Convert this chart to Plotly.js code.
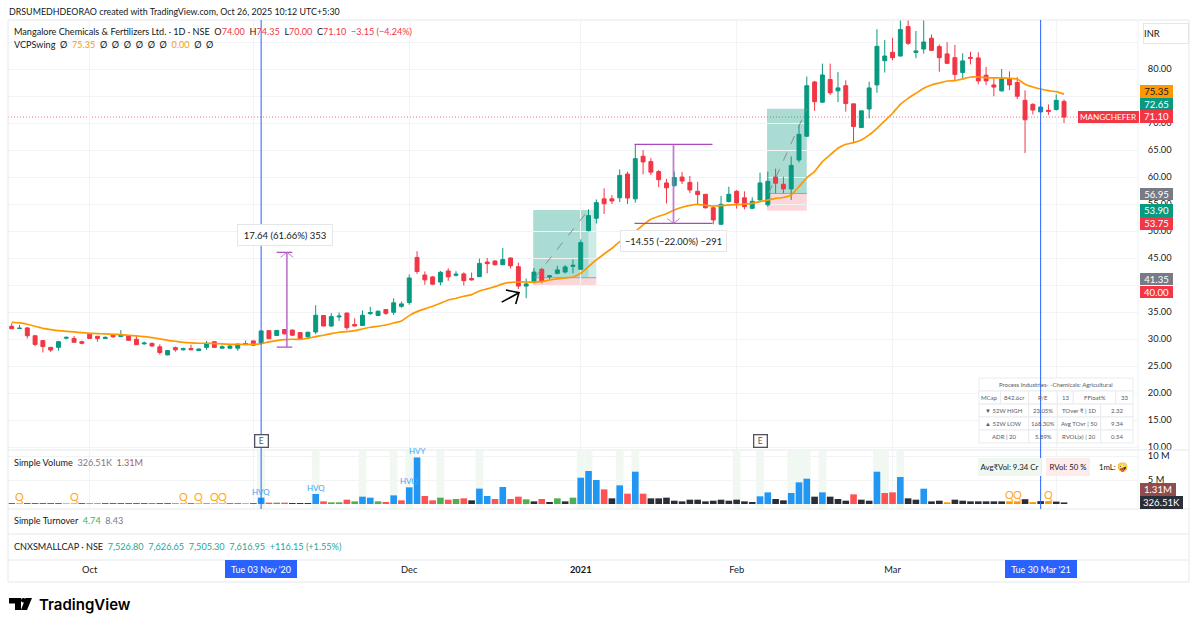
<!DOCTYPE html>
<html>
<head>
<meta charset="utf-8">
<script src="https://cdn.plot.ly/plotly-3.0.1.min.js"></script>
<style>html,body{margin:0;padding:0;background:#fff}#c{width:1200px;height:627px}</style>
</head>
<body>
<div id="c"></div>
<script>
// ---------- data ----------
const opens = [32.35,31.95,32.05,30.6,29.7,28.45,28.45,30.15,30.1,29.5,30.95,30.5,30.1,30.85,30.45,30.6,29.95,29.1,29.2,28.55,27.05,28.4,28.0,28.25,27.85,28.45,29.5,28.3,28.3,28.3,28.95,29.65,29.15,31.55,30.65,31.75,31.65,31.2,30.4,31.3,34.35,32.4,34.1,34.8,32.7,32.5,34.7,34.35,35.45,34.95,36.05,36.75,45.1,41.85,41.5,40.55,42.6,41.8,42.05,41.2,41.55,44.25,44.45,43.75,45.0,43.4,39.8,40.45,42.9,41.5,42.15,42.4,43.45,42.9,50.05,52.35,55.95,55.95,56.15,60.55,55.95,63.85,62.85,61.0,58.9,58.4,60.0,59.0,57.35,56.8,54.3,51.25,55.45,57.35,56.15,54.2,55.75,54.85,60.0,58.65,57.8,63.15,67.55,77.6,73.85,78.05,75.95,76.9,73.55,69.15,72.6,77.05,81.55,83.1,82.4,87.85,83.05,83.7,85.7,84.15,82.8,82.1,79.35,82.15,82.05,78.85,77.05,75.95,78.15,77.5,74.2,73.45,72.05,72.35,72.5,74.0];
const highs = [32.9,32.6,32.2,30.75,29.8,28.45,29.65,30.45,30.55,29.7,31.15,30.55,30.5,30.85,31.65,30.75,30.55,29.5,29.3,29.0,27.95,28.6,28.4,28.95,28.25,29.65,29.55,28.85,28.95,29.15,29.7,29.7,31.5,31.65,31.6,31.8,31.75,31.25,31.35,36.25,34.4,34.8,34.9,34.9,33.85,35.3,35.95,35.25,35.5,37.55,36.95,41.95,46.25,42.5,41.65,42.6,43.1,42.55,42.35,42.3,44.9,45.0,44.55,46.85,45.1,44.15,41.2,43.15,43.2,41.85,43.55,43.7,44.75,48.45,54.0,55.85,57.9,56.65,61.4,61.0,66.05,65.0,63.5,61.3,59.65,61.0,60.95,60.2,59.1,56.85,54.65,56.5,58.2,57.6,57.35,56.25,60.8,61.0,61.55,60.05,63.8,69.65,78.6,77.8,81.0,81.0,79.45,77.9,73.55,72.3,77.65,87.35,85.35,85.75,90.9,90.0,87.05,91.0,86.4,84.55,84.95,84.45,82.9,83.2,83.1,80.4,78.5,80.0,79.55,78.5,76.05,73.65,76.1,73.45,75.3,74.35];
const lows = [31.9,31.9,30.1,28.7,27.5,27.6,27.85,29.95,29.3,29.0,30.0,29.5,30.0,30.25,30.4,29.7,28.9,28.95,28.6,27.1,27.0,27.65,27.85,27.95,27.8,28.0,28.4,28.2,28.2,27.8,28.9,28.8,29.1,30.0,30.55,30.85,30.6,29.8,30.15,30.9,32.35,32.3,33.35,31.7,32.35,32.4,34.45,34.25,34.45,34.45,35.8,36.35,42.05,40.05,40.05,39.95,40.8,41.55,39.9,40.8,41.5,42.15,43.6,43.7,43.05,39.25,37.55,40.3,40.3,41.05,42.0,42.15,42.15,42.8,49.95,51.4,53.15,55.0,55.35,55.0,55.25,60.5,60.35,58.1,55.1,58.2,58.7,57.0,55.0,54.15,51.25,51.1,55.3,54.15,54.0,54.05,55.6,54.5,57.0,57.0,55.75,62.7,67.4,72.25,73.75,75.2,73.85,72.1,66.45,69.1,70.85,75.6,79.35,81.6,82.35,84.45,82.0,82.85,83.35,79.5,81.0,77.95,78.3,80.85,77.15,77.05,74.95,75.8,76.1,74.45,64.45,71.6,72.0,71.5,72.3,70.0];
const closes = [31.9,32.0,30.6,29.0,28.6,27.95,29.5,30.3,29.4,29.2,30.1,30.1,30.3,30.4,30.8,29.75,28.95,29.25,28.7,27.5,27.85,28.0,28.2,28.0,28.15,29.2,28.45,28.55,28.7,29.05,29.15,28.85,31.5,30.05,31.6,30.95,30.7,29.95,31.25,34.4,32.4,34.15,34.25,32.1,32.4,34.4,34.9,35.15,34.75,36.7,36.5,41.3,42.5,40.95,40.15,42.35,41.5,42.0,40.8,40.95,44.0,43.95,43.75,44.7,43.55,39.8,40.2,42.4,40.75,41.7,42.8,43.35,43.65,47.85,52.85,55.25,55.05,55.55,60.3,56.1,63.4,62.8,60.9,59.5,58.0,59.9,59.25,57.6,56.75,54.3,52.05,54.95,56.8,55.2,54.5,55.5,58.9,59.2,58.85,57.8,62.15,67.9,76.9,73.95,78.9,75.6,76.5,73.6,69.35,72.25,76.5,84.2,82.4,82.1,87.3,84.75,83.35,85.0,83.45,82.1,81.05,79.0,81.5,82.0,77.8,77.8,76.65,78.15,77.05,74.95,70.6,72.4,72.95,72.15,74.2,71.1];
const vcpLine = [33.1,32.97,32.73,32.36,31.98,31.74,31.55,31.43,31.31,31.18,31.06,31.0,30.94,30.87,30.81,30.69,30.57,30.44,30.26,30.01,29.76,29.58,29.39,29.27,29.21,29.21,29.15,29.09,29.02,29.02,29.02,29.02,29.15,29.46,29.7,29.89,29.95,29.95,30.14,30.45,30.69,31.0,31.25,31.37,31.55,31.86,32.17,32.36,32.6,32.97,33.35,34.33,35.07,35.57,36.06,36.62,37.23,37.54,37.91,38.22,38.9,39.27,39.7,40.2,40.5,40.56,40.56,40.53,40.63,40.93,41.12,41.3,41.49,42.17,43.4,44.64,45.75,46.8,48.03,48.77,49.88,51.12,52.16,52.72,53.21,53.89,54.39,54.76,54.94,54.76,54.63,54.69,54.82,54.88,55.0,55.13,55.43,55.74,56.05,56.2,56.68,58.22,59.89,61.0,62.85,64.09,65.32,66.06,66.37,66.86,67.79,69.02,70.38,71.8,73.46,74.57,75.5,76.43,77.04,77.41,77.78,77.85,78.15,78.52,78.52,78.4,78.34,78.34,78.28,78.15,77.17,76.67,76.3,76.0,75.8,75.35];
const volumes = [0.15,0.15,0.15,0.15,0.15,0.15,0.15,0.15,0.15,0.15,0.15,0.15,0.15,0.15,0.15,0.15,0.15,0.15,0.12,0.15,0.15,0.15,0.15,0.12,0.15,0.15,0.15,0.15,0.12,0.12,0.12,0.15,1.32,0.28,0.28,0.28,0.2,0.2,0.2,2.08,0.55,0.35,0.35,0.9,0.55,1.53,1.32,0.55,0.42,1.8,0.76,3.47,9.7,1.67,0.76,1.32,0.9,1.04,1.18,0.76,3.2,1.67,1.04,3.54,1.04,1.53,0.97,0.55,1.04,0.42,1.18,0.55,1.32,5.48,6.87,5.0,3.05,1.18,3.89,2.15,6.73,2.15,1.18,1.18,1.32,0.69,0.55,0.9,0.9,0.55,0.69,0.9,0.69,0.9,0.55,0.42,1.6,2.43,1.04,0.76,2.29,4.51,5.27,1.53,2.43,1.53,1.04,0.69,2.01,0.9,0.69,6.73,2.29,2.43,5.62,1.18,0.9,3.19,0.55,0.69,0.35,0.9,0.69,0.55,0.55,0.55,0.55,0.55,0.55,0.55,1.0,0.4,0.6,0.6,0.5,0.33];
const volumeKinds = ("dodddddood"+"bbdddddddd"+"dbodoboodd"+"bdbrgrdddb"+"rggrgbbgrb"+"rbbrrgrgrd"+"bbrbrrgdrd"+"gdgbbbrdbr"+"brdddddddd"+"ddddddbbdd"+"bbbdbdddrd"+"dbrrbddbdd"+"odddddddoo"+"dododd");
const bandBars = [32,39,45,49,51,55,60,73,74,78,80,93,96,100,101,102,104,111,112,114];
const qBars = [1,8,22,24,26,27,128,129,133];
const hvLabelBars = [32,39,51,52];
const hvLabels = ["HVQ","HVQ","HVQ","HVY"];
const crosshairBars = [32,132];
const crosshairDates = ["Tue 03 Nov '20","Tue 30 Mar '21"];
const earningsBars = [32,96];
const monthBars = [10,31,51,73,93,113,134];
const monthLabels = ["Oct","","Dec","<b>2021</b>","Feb","Mar",""];
const priceTicks = [10,15,20,25,30,35,40,45,50,55,60,65,70,75,80,85];
const hiddenPriceTicks = [40,75,85];
const lastPrice = 71.10;
const posBars = [[67,74,75],[97,102,102]];
const posTarget = [53.90,72.65];
const posEntry = [41.35,56.95];
const posStop = [40.00,53.75];
const measureUpBars = [34,36,35.3];
const measureUpPrices = [46.05,28.5];
const measureDownBars = [79.9,89.9,84.9];
const measureDownPrices = [66.05,51.4];
const arrowBars = [62.86,65.08,63.4,65.08,64.66];
const arrowPrices = [36.82,38.57,39.07,38.57,36.48];
const tableRows = [
  ["MCap","842.6cr","P/E","13","FFloat%","33"],
  ["▼ 52W HIGH","23.05%","TOver ₹ | 1D","2.32"],
  ["▲ 52W LOW","168.30%","Avg TOvr | 50","9.34"],
  ["ADR | 20","5.89%","RVOL(x) | 20","0.54"]
];
const tableTitle = "Process Industries- -Chemicals: Agricultural";

// ---------- colours ----------
const RED="#f23645", GREEN="#089981", ORANGE="#ff9800", BLUE="#2962ff", INK="#131722", GRID="#f2f3f5", FRAME="#e6e8ec", GREY="#787b86";
const kindColor={d:"#2a2e39",o:"#ff9800",b:"#2196f3",r:"#ff5252",g:"#4caf50"};
const FONT='Lato, "Noto Sans", sans-serif';

// ---------- pixel helpers ----------
const L=8,R=1138,T=20,B=560;
const px=x=>(x-L)/(R-L), py=y=>(B-y)/(B-T);
const bars=opens.map((_,i)=>i);
const xRange=[(L-11.7)/7.795,(R-11.7)/7.795];
const yRange=[(501-449)/5.4,(501-20)/5.4];
const vRange=[-(509-504)/4.8,(504-451)/4.8];

const ann=[], shp=[];
const text=(t,x,y,o={})=>ann.push(Object.assign({text:t,x:px(x),y:py(y),xref:"paper",yref:"paper",xanchor:"left",yanchor:"middle",showarrow:false,borderpad:0,font:{family:FONT,size:11,color:INK}},o));
const box=(t,x0,x1,y0,y1,bg,color,size)=>ann.push({text:t,x:px((x0+x1)/2),y:py((y0+y1)/2),xref:"paper",yref:"paper",xanchor:"center",yanchor:"middle",showarrow:false,width:x1-x0,height:y1-y0,bgcolor:bg,borderpad:0,borderwidth:0,align:"center",valign:"middle",font:{family:FONT,size:size||9.6,color}});
const rule=(x0,x1,y0,y1,c,w)=>shp.push({type:"line",xref:"paper",yref:"paper",x0:px(x0),x1:px(x1),y0:py(y0),y1:py(y1),line:{color:c||FRAME,width:w||1}});
const bordered=(t,cx,cy,w,h,size,o={})=>ann.push(Object.assign({text:t,x:px(cx),y:py(cy),xref:"paper",yref:"paper",xanchor:"center",yanchor:"middle",showarrow:false,width:w,height:h,bgcolor:"#fff",bordercolor:"#e4e6ea",borderwidth:1,borderpad:0,font:{family:FONT,size,color:INK}},o));

// frame
[[8,1189,20,20],[8,1189,450,450],[8,1189,509,509],[8,1189,534,534],[8,1189,560,560],[8,1189,582,582],[8,8,20,582],[1189,1189,20,582]].forEach(a=>rule(a[0],a[1],a[2],a[3]));
rule(1138,1138,20,509,"#f0f1f3");

// position tools
posBars.forEach((b,k)=>{
  shp.push({type:"rect",xref:"x",yref:"y",x0:b[0]-.1,x1:b[1],y0:posEntry[k],y1:posTarget[k],fillcolor:"rgba(8,153,129,.34)",line:{width:0},layer:"below"});
  if(b[2]>b[1]) shp.push({type:"rect",xref:"x",yref:"y",x0:b[1],x1:b[2],y0:posEntry[k],y1:posTarget[k],fillcolor:"rgba(8,153,129,.2)",line:{width:0},layer:"below"});
  shp.push({type:"rect",xref:"x",yref:"y",x0:b[0]-.1,x1:b[2],y0:posStop[k],y1:posEntry[k],fillcolor:"rgba(242,54,69,.2)",line:{width:0},layer:"below"});
  shp.push({type:"line",xref:"x",yref:"y",x0:b[0]-.1,x1:b[2],y0:posEntry[k],y1:posEntry[k],line:{color:"#a0a3aa",width:1},layer:"below"});
  shp.push({type:"line",xref:"x",yref:"y",x0:b[0]+.1,x1:b[1],y0:posEntry[k],y1:posTarget[k],line:{color:"#8a8d94",width:1,dash:"dash"}});
});
// last price line
shp.push({type:"line",xref:"paper",yref:"y",x0:0,x1:px(1078),y0:lastPrice,y1:lastPrice,line:{color:"rgba(242,54,69,.75)",width:1,dash:"1px,2px"},layer:"below"});

// measure tools
const MP="#ab47bc", MV="rgba(186,104,200,.85)";
const line=(x0,x1,y0,y1,c,w)=>shp.push({type:"line",xref:"x",yref:"y",x0,x1,y0,y1,line:{color:c,width:w}});
[[measureUpBars,measureUpPrices],[measureDownBars,measureDownPrices]].forEach(([b,p],k)=>{
  line(b[0],b[1],p[0],p[0],MP,1.2); line(b[0],b[1],p[1],p[1],MP,1.2);
  line(b[2],b[2],p[0],p[1],MV,1.8);
  const tip=k?p[1]:p[0], d=k?1:-1;
  line(b[2]-.8,b[2],tip+d*.9,tip,MV,1); line(b[2]+.8,b[2],tip+d*.9,tip,MV,1);
});
bordered("17.64 (61.66%) 353",285,234.5,94,20,9.5);
bordered("−14.55 (−22.00%) −291",673.5,240.5,105,20,9.3);

// header and legends
text("DRSUMEDHDEORAO created with TradingView.com, Oct 26, 2025 10:12 UTC+5:30",8,11,{font:{family:FONT,size:8.9,color:INK}});
const rs=t=>`<span style="color:${RED}">${t}</span>`, os=t=>`<span style="color:${ORANGE}">${t}</span>`, gs=t=>`<span style="color:#26a69a">${t}</span>`;
const LEG={family:FONT,size:9.1,color:INK};
text(`Mangalore Chemicals & Fertilizers Ltd. · 1D · NSE  O${rs("74.00")}  H${rs("74.35")}  L${rs("70.00")}  C${rs("71.10")}  ${rs("−3.15 (−4.24%)")}`,13,31.5,{font:LEG});
text(`VCPSwing  Ø  ${os("75.35")}  Ø  Ø  Ø  Ø  Ø  Ø  ${os("0.00")}  Ø  Ø`,13,44.5,{font:LEG});
text(`Simple Volume  <span style="color:${GREY}">326.51K</span>  <span style="color:#a65f5f">1.31M</span>`,13,462,{font:LEG});
text(`Simple Turnover  <span style="color:#4caf50">4.74</span>  <span style="color:${GREY}">8.43</span>`,13,520.5,{font:LEG});
text(`CNXSMALLCAP · NSE  ${gs("7,526.80")}  ${gs("7,626.65")}  ${gs("7,505.30")}  ${gs("7,616.95")}  ${gs("+116.15 (+1.55%)")}`,13,546.5,{font:LEG});

// crosshair date labels
crosshairBars.forEach((b,k)=>{const c=11.7+7.795*b; box(crosshairDates[k],c-36,c+36,560,578,BLUE,"#fff",9);});
// earnings flags
earningsBars.forEach(b=>ann.push({text:"E",x:b,xref:"x",xanchor:"center",y:py(440.7),yref:"paper",yanchor:"middle",showarrow:false,width:12,height:11,bgcolor:"#fff",bordercolor:"#50535e",borderwidth:1.3,borderpad:0,font:{family:FONT,size:8.5,color:"#50535e"}}));

// right side price labels
box("75.35",1140,1173,85,97.5,ORANGE,INK);
box("72.65",1140,1173,98,110,GREEN,"#fff");
box("71.10",1140,1173,110,123,RED,"#fff");
box("MANGCHEFER",1078,1139,111,123,RED,"#fff",8.2);
box("56.95",1140,1173,188,200,GREY,"#fff");
box("53.90",1140,1173,204,217,GREEN,"#fff");
box("53.75",1140,1173,217,230,RED,"#fff");
box("41.35",1140,1173,273,285,GREY,"#fff");
box("40.00",1140,1173,286,298,RED,"#fff");
box("1.31M",1140,1176,483,495.5,"#934c4c","#fff");
box("326.51K",1140,1183,496,508.5,"#2a2e39","#fff");
bordered("INR",1166,33.5,44,19,9.4,{align:"left"});

// volume annotations
qBars.forEach(b=>ann.push({text:"Q",x:b,xref:"x",xanchor:"center",y:py(504-volumes[b]*4.8),yref:"paper",yanchor:"bottom",yshift:-2,showarrow:false,font:{family:FONT,size:11,color:"#ffa726"}}));
hvLabelBars.forEach((b,k)=>ann.push({text:hvLabels[k],x:b,xref:"x",xanchor:"center",y:py(504-volumes[b]*4.8),yref:"paper",yanchor:"bottom",yshift:-1,showarrow:false,font:{family:FONT,size:8,color:"#42a5f5"}}));
box("Avg₹Vol: 9.34 Cr",978,1041,458,476,"#eff8f0",INK,7.8);
box("RVol: 50 %",1046,1090,458,476,"#fdecec",INK,7.8);
text("1mL:",1098,467,{font:{family:FONT,size:7.8,color:INK}});
text("🤪",1116,467,{font:{family:FONT,size:9,color:INK}});

// fundamentals table
const tc="#e9ebee", tf={family:FONT,size:6,color:"#555a66"};
const cell=(x0,x1,y0,y1,t)=>{shp.push({type:"rect",xref:"paper",yref:"paper",x0:px(x0),x1:px(x1),y0:py(y0),y1:py(y1),fillcolor:"#fff",line:{color:tc,width:1}});
  ann.push({text:t,x:px((x0+x1)/2),y:py((y0+y1)/2),xref:"paper",yref:"paper",xanchor:"center",yanchor:"middle",showarrow:false,borderpad:0,font:tf});};
cell(979,1133,378,391,tableTitle);
const wide=[979,1000.7,1028.7,1057.3,1073.3,1115.7,1133], narrow=[979,1028.7,1057.3,1100.7,1133];
tableRows.forEach((row,r)=>{const e=r?narrow:wide, y0=391+r*13;
  row.forEach((t,c)=>cell(e[c],e[c+1],y0,y0+13,t));});

// crosshair lines, above the table
crosshairBars.forEach(b=>shp.push({type:"line",xref:"x",yref:"paper",x0:b,x1:b,y0:py(509),y1:1,line:{color:BLUE,width:1}}));

// TradingView logo
text("TradingView",37.5,604.5,{font:{family:"Inter, "+FONT,size:15,weight:600,color:"#000"}});
const pth=p=>shp.push({type:"path",xref:"paper",yref:"paper",path:p.map((q,i)=>(i?"L":"M")+px(q[0])+","+py(q[1])).join(" ")+" Z",fillcolor:"#000",line:{width:0}});
pth([[9,598],[21,598],[21,610],[15,610],[15,603.5],[9,603.5]]);
pth([[25.5,598],[32,598],[27,610],[21,610]]);
shp.push({type:"circle",xref:"paper",yref:"paper",x0:px(21),x1:px(25.6),y0:py(598),y1:py(602.6),fillcolor:"#000",line:{width:0}});

// ---------- traces ----------
const traces=[
 {type:"candlestick",x:bars,open:opens,high:highs,low:lows,close:closes,xaxis:"x",yaxis:"y",
  increasing:{line:{color:GREEN,width:1},fillcolor:GREEN},decreasing:{line:{color:RED,width:1},fillcolor:RED},whiskerwidth:0,hoverinfo:"skip"},
 {type:"scatter",mode:"lines",x:bars,y:vcpLine,xaxis:"x",yaxis:"y",line:{color:ORANGE,width:1.7,shape:"spline",smoothing:.4},hoverinfo:"skip"},
 {type:"scatter",mode:"lines",x:arrowBars,y:arrowPrices,xaxis:"x",yaxis:"y",line:{color:"#000",width:1.6},hoverinfo:"skip"},
 {type:"bar",x:bandBars,y:bandBars.map(()=>vRange[1]-vRange[0]),base:vRange[0],width:1,xaxis:"x",yaxis:"y2",marker:{color:"#f1f8f2",line:{width:0}},hoverinfo:"skip"},
 {type:"bar",x:bars,y:volumes,width:.85,xaxis:"x",yaxis:"y2",marker:{color:bars.map(i=>kindColor[volumeKinds[i]]),line:{width:0}},hoverinfo:"skip"}
];
const axFont={family:FONT,size:9.3,color:INK};
const layout={
 width:1200,height:627,paper_bgcolor:"#fff",plot_bgcolor:"rgba(0,0,0,0)",showlegend:false,barmode:"overlay",boxgap:.28,
 margin:{l:L,r:1200-R,t:T,b:627-B,pad:0},font:{family:FONT,size:11,color:INK},
 xaxis:{range:xRange,anchor:"free",position:0,domain:[0,1],tickmode:"array",tickvals:monthBars,ticktext:monthLabels,showgrid:true,gridcolor:GRID,gridwidth:1,zeroline:false,showline:false,ticks:"outside",ticklen:1,tickcolor:"rgba(0,0,0,0)",tickfont:axFont,tickangle:0,rangeslider:{visible:false}},
 yaxis:{domain:[py(449),1],range:yRange,side:"right",anchor:"x",tickmode:"array",tickvals:priceTicks,ticktext:priceTicks.map(v=>hiddenPriceTicks.includes(v)?"":v.toFixed(2)),showgrid:true,gridcolor:GRID,gridwidth:1,zeroline:false,showline:false,ticks:"outside",ticklen:7,tickcolor:"rgba(0,0,0,0)",tickfont:axFont},
 yaxis2:{domain:[py(509),py(451)],range:vRange,side:"right",anchor:"x",tickmode:"array",tickvals:[5,10],ticktext:["5 M","10 M"],showgrid:true,gridcolor:GRID,gridwidth:1,zeroline:false,showline:false,ticks:"outside",ticklen:7,tickcolor:"rgba(0,0,0,0)",tickfont:axFont},
 annotations:ann,shapes:shp
};
Plotly.newPlot("c",traces,layout,{displayModeBar:false,staticPlot:true,responsive:false});
</script>
</body>
</html>
